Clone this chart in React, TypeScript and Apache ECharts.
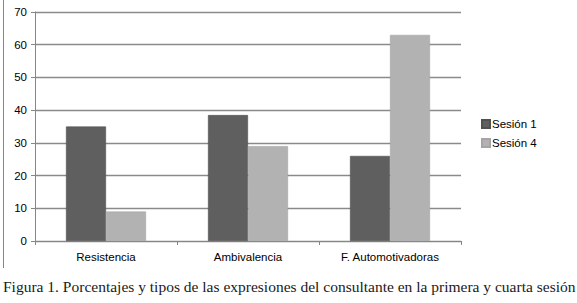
import React, { useEffect, useRef } from "react";
import * as echarts from "echarts";

const categories = ["Resistencia", "Ambivalencia", "F. Automotivadoras"];
const sesion1 = [35, 38.5, 26];
const sesion4 = [9, 29, 63];
const seriesNames = ["Sesión 1", "Sesión 4"];
const caption =
  "Figura 1. Porcentajes y tipos de las expresiones del consultante en la primera y cuarta sesión";

export default function App() {
  const ref = useRef<HTMLDivElement>(null);
  useEffect(() => {
    document.body.style.margin = "0";
    const chart = echarts.init(ref.current!, null, { renderer: "svg" });
    const axisFont = { fontFamily: "Liberation Sans", fontSize: 11.5, color: "#000" };
    chart.setOption({
      animation: false,
      backgroundColor: "#fff",
      grid: { left: 35, right: 116, top: 12, bottom: 62 },
      legend: {
        orient: "vertical",
        left: 481,
        top: 118,
        padding: 0,
        itemWidth: 8,
        itemHeight: 8,
        itemGap: 7,
        icon: "rect",
        textStyle: { ...axisFont, padding: [0, 0, 0, -3] },
        data: seriesNames,
      },
      xAxis: {
        type: "category",
        data: categories,
        axisLine: { lineStyle: { color: "#868686", width: 1 } },
        axisTick: { show: true, length: 4, lineStyle: { color: "#868686" } },
        axisLabel: { ...axisFont, margin: 10 },
      },
      yAxis: {
        type: "value",
        min: 0,
        max: 70,
        interval: 10,
        axisLine: { show: true, lineStyle: { color: "#868686", width: 1 } },
        axisTick: { show: true, length: 4, lineStyle: { color: "#868686" } },
        axisLabel: { ...axisFont, margin: 8 },
        splitLine: { lineStyle: { color: "#8a8a8a", width: 1.3 } },
      },
      series: [
        {
          name: seriesNames[0],
          type: "bar",
          data: sesion1,
          barWidth: 40,
          barGap: "0%",
          itemStyle: { color: "#5f5f5f", borderColor: "#505050", borderWidth: 0.6 },
        },
        {
          name: seriesNames[1],
          type: "bar",
          data: sesion4,
          barWidth: 40,
          barGap: "0%",
          itemStyle: { color: "#b2b2b2", borderColor: "#a5a5a5", borderWidth: 0.6 },
        },
      ],
      graphic: [
        {
          type: "line",
          shape: { x1: 3.5, y1: 0, x2: 3.5, y2: 268 },
          style: { stroke: "#868686", lineWidth: 1 },
        },
        {
          type: "text",
          left: 3,
          top: 278,
          style: {
            text: caption,
            font: "15.5px 'Liberation Serif'",
            fill: "#1a1a1a",
          },
        },
      ],
    });
    return () => chart.dispose();
  }, []);
  return <div ref={ref} style={{ width: 577, height: 303 }} />;
}
